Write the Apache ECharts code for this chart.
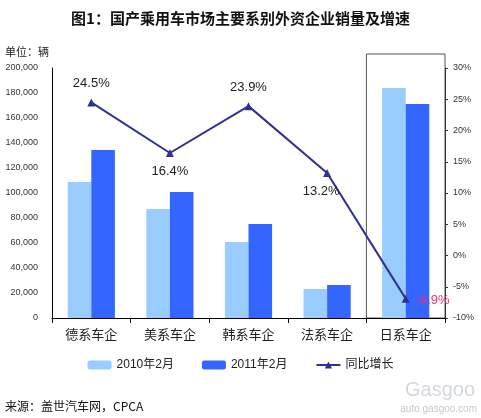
<!DOCTYPE html>
<html><head><meta charset="utf-8">
<script src="https://cdn.jsdelivr.net/npm/echarts@6/dist/echarts.min.js"></script>
<style>html,body{margin:0;padding:0;background:#fff}#c{width:481px;height:418px}</style>
</head><body><div id="c"></div>
<script>
const categories = ['德系车企','美系车企','韩系车企','法系车企','日系车企'];
const sales2010 = [108800, 87200, 60800, 23200, 184000];
const sales2011 = [134400, 100800, 75200, 26400, 171200];
const growth = [24.5, 16.4, 23.9, 13.2, -6.9];
const leftTicks = [0, 200000, 20000];
const rightTicks = [-10, 30, 5];

const chart = echarts.init(document.getElementById('c'));
const font = 'Arial, "Liberation Sans", "Noto Sans CJK SC", sans-serif';
const labelPos = ['top','bottom','top','bottom','right'];
const baseGraphic = [
  {id: 'unit', type: 'text', left: 5, top: 46, style: {text: '单位：辆', fill: '#222', font: '11px "Noto Sans CJK SC"'}},
  {id: 'src', type: 'text', left: 5, top: 400, style: {text: '来源：盖世汽车网，CPCA', fill: '#111', font: '12px "Noto Sans CJK SC"'}},
  {id: 'wm1', type: 'text', right: 6, top: 380, style: {text: 'Gasgoo', fill: '#d4d8dc', font: '20px Arial'}},
  {id: 'wm2', type: 'text', right: 4, top: 404, style: {text: 'auto.gasgoo.com', fill: '#c4c8cc', font: '10px Arial'}}
];
chart.setOption({
  backgroundColor: '#fff',
  animation: false,
  title: {
    text: '图1：国产乘用车市场主要系别外资企业销量及增速',
    left: 'center', top: 6,
    textStyle: {fontSize: 15, fontWeight: 'bold', color: '#111', fontFamily: '"Noto Sans CJK SC", sans-serif'}
  },
  grid: {left: 52, right: 36, top: 68, bottom: 100},
  legend: {
    bottom: 42, left: 'center', itemGap: 28, itemWidth: 24, itemHeight: 9,
    textStyle: {fontSize: 12, color: '#222', fontFamily: font},
    data: [{name:'2010年2月'},{name:'2011年2月'},{name:'同比增长'}]
  },
  xAxis: {
    type: 'category', data: categories,
    axisLine: {lineStyle: {color: '#000'}},
    axisTick: {show: true, alignWithLabel: false, lineStyle:{color:'#000'}},
    axisLabel: {fontSize: 13, color: '#222', margin: 10, fontFamily: '"Noto Sans CJK SC", sans-serif'}
  },
  yAxis: [{
    type: 'value', min: leftTicks[0], max: leftTicks[1], interval: leftTicks[2],
    splitLine: {show: false},
    axisLine: {show: true, lineStyle: {color: '#000'}},
    axisTick: {show: false},
    axisLabel: {fontSize: 9, color: '#333', margin: 14, fontFamily: font,
      formatter: v => v.toLocaleString('en-US')}
  },{
    type: 'value', min: rightTicks[0], max: rightTicks[1], interval: rightTicks[2],
    splitLine: {show: false},
    axisLine: {show: true, lineStyle: {color: '#333'}},
    axisTick: {show: true, inside: false, length: 3, lineStyle:{color:'#333'}},
    axisLabel: {fontSize: 9, color: '#333', margin: 8, fontFamily: font, formatter: '{value}%'}
  }],
  series: [
    {name: '2010年2月', type: 'bar', data: sales2010, barGap: '0%', barCategoryGap: '40%',
     itemStyle: {color: '#99CCFF'}},
    {name: '2011年2月', type: 'bar', data: sales2011, barGap: '0%', barCategoryGap: '40%',
     itemStyle: {color: '#3366FF'}},
    {name: '同比增长', type: 'line', yAxisIndex: 1, z: 5, data: growth.map((v,i)=>({
        value: v,
        label: {show: true, position: labelPos[i], distance: i===4?6:8,
          color: i===4 ? '#E8336E' : '#222', fontSize: 13, fontFamily: font,
          offset: i===3 ? [-6, 0] : (i===4 ? [0, 2] : [0,0]),
          formatter: p => p.value.toFixed(1) + '%'}
      })),
     symbol: 'triangle', symbolSize: 8,
     lineStyle: {color: '#2E3192', width: 2}, itemStyle: {color: '#2E3192'}}
  ],
  graphic: baseGraphic
});
// box around last category, computed from axis scales
const x0 = chart.convertToPixel({xAxisIndex:0}, categories[3]);
const x1 = chart.convertToPixel({xAxisIndex:0}, categories[4]);
const half = (x1 - x0) / 2;
const yb = chart.convertToPixel({yAxisIndex:0}, 0);
const yt = chart.convertToPixel({yAxisIndex:0}, leftTicks[1]);
chart.setOption({graphic: baseGraphic.concat([
  {id: 'box', type: 'rect', shape: {x: x1 - half, y: yt - 14, width: 2*half, height: yb - yt + 14},
   style: {fill: 'none', stroke: '#555', lineWidth: 1}, z: 0, silent: true}
])});
</script></body></html>
